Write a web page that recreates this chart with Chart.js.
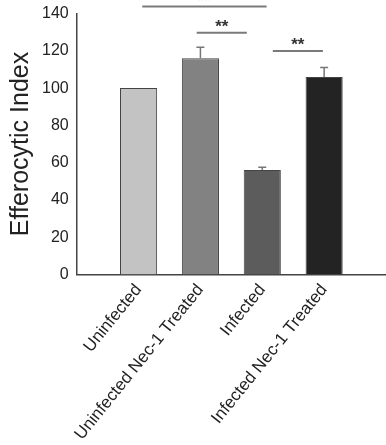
<!DOCTYPE html>
<html>
<head>
<meta charset="utf-8">
<script src="https://cdn.jsdelivr.net/npm/chart.js@4/dist/chart.umd.min.js"></script>
<style>
  html, body { margin: 0; padding: 0; background: #fff; }
  #wrap { width: 386px; height: 445px; }
</style>
</head>
<body>
<div id="wrap"><canvas id="myChart"></canvas></div>
<script>
// Efferocytic index - data
const categories = ['Uninfected', 'Uninfected Nec-1 Treated', 'Infected', 'Infected Nec-1 Treated'];
const values = [100, 116, 56, 106];
const errors = [0, 6, 1.5, 5];
const barColors = ['#c3c3c3', '#828282', '#5c5c5c', '#232323'];
const yTicks = [0, 20, 40, 60, 80, 100, 120, 140];

// significance brackets: from / to (category position), height (y value), label
const sigFrom = [1.06, 1.94, 3.17];
const sigTo = [3.07, 2.75, 3.98];
const sigHeight = [143.8, 129.7, 119.9];
const sigLabel = ['**', '**', '**'];

// empty slot on each side so the bars sit like the original
const labels = [''].concat(categories, ['']);
const barData = [null].concat(values, [null]);
const errData = [null].concat(errors, [null]);

const errorBars = {
    id: 'errorBars',
    afterDatasetsDraw(chart) {
        const ctx = chart.ctx;
        const y = chart.scales.y;
        const meta = chart.getDatasetMeta(0);
        ctx.save();
        ctx.strokeStyle = '#777';
        ctx.lineWidth = 1.5;
        meta.data.forEach((bar, i) => {
            if (barData[i] == null || !errData[i]) return;
            const top = y.getPixelForValue(barData[i] + errData[i]);
            ctx.beginPath();
            ctx.moveTo(bar.x, bar.y);
            ctx.lineTo(bar.x, top);
            ctx.moveTo(bar.x - 4, top);
            ctx.lineTo(bar.x + 4, top);
            ctx.stroke();
        });
        ctx.restore();
    }
};

const sigMarks = {
    id: 'sigMarks',
    afterDraw(chart) {
        const ctx = chart.ctx;
        const x = chart.scales.x;
        const y = chart.scales.y;
        const step = x.getPixelForValue(1) - x.getPixelForValue(0);
        const x0 = x.getPixelForValue(0);
        ctx.save();
        for (let i = 0; i < sigFrom.length; i++) {
            const xa = x0 + sigFrom[i] * step;
            const xb = x0 + sigTo[i] * step;
            const yy = y.getPixelForValue(sigHeight[i]);
            ctx.strokeStyle = '#7a7a7a';
            ctx.lineWidth = 2;
            ctx.beginPath();
            ctx.moveTo(xa, yy);
            ctx.lineTo(xb, yy);
            ctx.stroke();
            ctx.fillStyle = '#333';
            ctx.font = 'bold 17px "Liberation Sans", Arial, sans-serif';
            ctx.textAlign = 'center';
            ctx.textBaseline = 'alphabetic';
            ctx.fillText(sigLabel[i], (xa + xb) / 2, yy - 1);
        }
        ctx.restore();
    }
};

const config = {
    type: 'bar',
    data: {
        labels: labels,
        datasets: [{
            data: barData,
            backgroundColor: [null].concat(barColors, [null]),
            borderColor: '#444',
            borderWidth: 1,
            categoryPercentage: 1,
            barPercentage: 0.6
        }]
    },
    options: {
        responsive: true,
        maintainAspectRatio: false,
        animation: false,
        layout: { padding: { top: 13, right: 0, left: 6, bottom: 0 } },
        plugins: {
            legend: { display: false },
            tooltip: { enabled: false }
        },
        scales: {
            x: {
                offset: false,
                afterFit: (s) => { s.paddingRight = 0; s.height -= 5; },
                grid: { display: false, drawTicks: false },
                border: { color: '#444', width: 1.5 },
                ticks: {
                    autoSkip: false,
                    maxRotation: 51,
                    minRotation: 51,
                    padding: 6,
                    color: '#222',
                    font: { family: '"Liberation Sans", Arial, sans-serif', size: 17 }
                }
            },
            y: {
                min: 0,
                max: 140,
                afterBuildTicks: (axis) => { axis.ticks = yTicks.map(v => ({ value: v })); },
                grid: { display: false, drawTicks: true, tickLength: 4, color: '#666' },
                border: { color: '#444', width: 1.5 },
                ticks: {
                    padding: 4,
                    color: '#222',
                    font: { family: '"Liberation Sans", Arial, sans-serif', size: 16 }
                },
                title: {
                    display: true,
                    text: 'Efferocytic Index',
                    color: '#222',
                    padding: { top: 0, bottom: 2 },
                    font: { family: '"Liberation Sans", Arial, sans-serif', size: 25 }
                }
            }
        }
    },
    plugins: [errorBars, sigMarks]
};

new Chart('myChart', config);
</script>
</body>
</html>
